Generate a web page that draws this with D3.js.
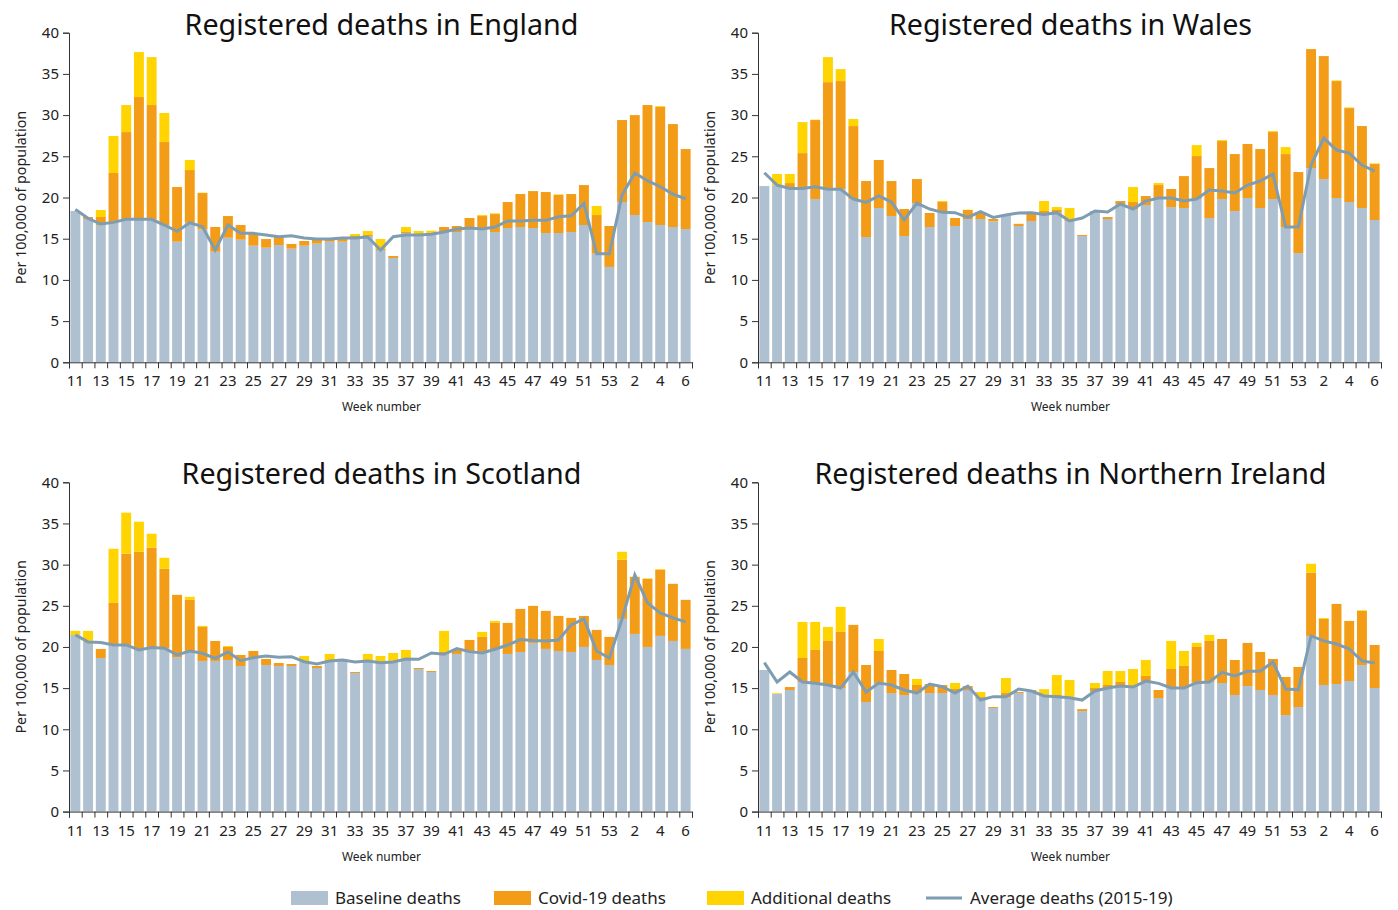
<!DOCTYPE html>
<html><head><meta charset="utf-8">
<script src="https://cdn.jsdelivr.net/npm/d3@7"></script>
<style>
body{margin:0;background:#fff;}
svg{display:block;font-family:"Noto Sans",sans-serif;}
</style></head><body>
<svg id="chart" width="1398" height="910"></svg>
<script>
const weeks = [11,12,13,14,15,16,17,18,19,20,21,22,23,24,25,26,27,28,29,30,31,32,33,34,35,36,37,38,39,40,41,42,43,44,45,46,47,48,49,50,51,52,53,1,2,3,4,5,6];
const yTicks = [0,5,10,15,20,25,30,35,40];
const titles = ["Registered deaths in England","Registered deaths in Wales","Registered deaths in Scotland","Registered deaths in Northern Ireland"];
const seriesNames = ["Baseline deaths","Covid-19 deaths","Additional deaths","Average deaths (2015-19)"];

const englandBaseline = [18.36,17.39,16.66,17.0,17.35,17.35,17.35,16.66,14.64,16.94,16.13,13.42,15.12,14.88,14.15,13.91,14.23,13.79,14.15,14.40,14.64,14.64,15.2,15.33,13.63,12.66,15.69,15.57,15.57,15.93,15.81,16.3,16.05,15.81,16.3,16.42,16.3,15.69,15.69,15.81,16.66,13.18,11.57,19.45,17.87,17.02,16.66,16.42,16.17];
const englandCovid = [0,0.24,0.97,5.97,10.59,14.84,13.87,10.07,6.63,6.39,4.41,3.0,2.63,1.78,1.5,1.05,1.01,0.57,0.57,0.56,0.32,0.32,0.13,0.12,0.12,0.24,0.12,0,0.1,0.49,0.73,1.21,1.7,2.18,3.15,4.0,4.48,4.97,4.61,4.61,4.85,4.69,4.97,9.95,12.13,14.2,14.35,12.49,9.71];
const englandAdditional = [0,0,0.85,4.49,3.28,5.46,5.82,3.52,0,1.22,0.05,0,0,0,0,0,0,0,0,0,0,0,0.24,0.48,1.21,0,0.61,0.36,0.3,0,0,0,0.12,0.09,0,0,0,0,0.08,0,0,1.1,0,0,0,0,0.09,0,0];
const englandAverage = [18.56,17.47,16.78,16.98,17.35,17.35,17.35,16.66,15.89,16.94,16.46,13.63,16.66,15.65,15.65,15.45,15.24,15.37,15.08,14.96,14.96,15.08,15.08,15.2,13.63,15.24,15.45,15.45,15.53,15.81,16.17,16.3,16.17,16.42,17.15,17.15,17.23,17.23,17.67,17.79,19.29,13.18,13.18,20.3,22.97,22.04,21.31,20.42,19.85];

const walesBaseline = [21.39,21.5,21.1,21.1,19.81,20.99,20.99,19.81,15.2,18.72,17.75,15.33,19.33,16.42,18.2,16.54,17.39,17.39,17.1,17.87,16.54,17.15,17.95,18.16,17.15,15.33,18.36,17.39,19.21,18.6,19.09,19.94,18.84,18.72,19.81,17.51,19.81,18.36,19.94,18.72,19.81,16.42,13.26,23.57,22.24,19.94,19.45,18.72,17.27];
const walesCovid = [0,0,0.65,4.29,9.59,13.01,13.14,8.86,6.8,5.83,4.25,3.27,2.91,1.7,1.25,0.97,1.09,0.85,0.29,0,0.24,0.97,0.41,0.32,0.2,0.12,0,0.24,0.36,0.85,1.09,1.57,2.19,3.88,5.22,6.06,7.04,6.91,6.55,7.16,8.13,8.85,9.83,14.44,14.92,14.19,11.4,9.95,6.79];
const walesAdditional = [0,1.35,1.1,3.76,0.05,3.04,1.45,0.85,0,0,0,0,0,0,0.12,0,0.04,0,0,0,0.04,0,1.21,0.36,1.37,0,0,0,0,1.82,0,0.24,0,0,1.33,0,0.12,0,0,0,0.12,0.85,0,0,0,0.08,0.08,0,0.08];
const walesAverage = [23.0,21.5,21.1,21.1,21.31,21.0,21.0,19.81,19.41,20.18,19.45,17.27,19.33,18.6,18.2,18.16,17.59,18.28,17.59,17.87,18.12,18.16,17.95,18.16,17.15,17.51,18.36,18.24,19.21,18.6,19.57,19.94,19.94,19.57,19.81,20.9,20.78,20.54,21.51,22.0,22.85,16.42,16.42,23.94,27.21,25.76,25.39,23.94,23.21];

const scotlandBaseline = [21.46,20.61,18.66,20.24,20.24,19.64,19.92,19.84,18.78,19.51,18.3,18.3,18.42,17.69,18.58,17.81,17.69,17.69,18.21,17.44,18.21,18.42,16.84,18.3,18.09,18.17,18.54,17.32,16.96,19.11,19.15,19.43,19.27,19.72,19.15,19.39,20.49,19.76,19.51,19.39,20.0,18.42,17.81,23.41,21.58,20.0,21.34,20.73,19.76];
const scotlandCovid = [0,0,1.1,5.11,11.08,11.92,12.13,9.65,7.55,6.21,4.13,2.43,1.58,1.34,0.93,0.73,0.36,0.24,0,0.25,0,0.12,0.12,0,0,0,0,0.12,0.12,0.28,0.49,1.42,1.95,3.2,3.77,5.23,4.5,4.62,4.26,4.14,3.77,3.65,3.41,7.18,6.94,8.28,8.03,6.94,5.96];
const scotlandAdditional = [0.49,1.34,0,6.58,4.99,3.65,1.7,1.34,0,0.37,0.13,0,0.12,0,0,0,0,0,0.69,0,0.94,0,0,0.85,0.81,1.1,1.1,0,0,2.56,0,0,0.61,0.24,0,0,0,0,0,0,0,0,0,0.97,0,0.05,0.08,0,0];
const scotlandAverage = [21.46,20.61,20.53,20.24,20.24,19.64,19.92,19.84,19.03,19.51,19.23,18.62,19.39,18.34,18.7,18.9,18.74,18.82,18.21,17.93,18.3,18.42,18.17,18.3,18.09,18.17,18.54,18.5,19.27,19.11,19.8,19.43,19.27,19.72,20.24,20.89,20.77,20.73,20.85,22.68,23.41,19.51,18.66,23.41,28.76,25.35,24.14,23.53,23.04];

const nirelandBaseline = [17.2,14.28,14.77,15.74,15.58,15.38,15.01,16.96,13.31,15.62,14.4,14.16,14.4,14.4,14.4,14.52,14.77,13.71,12.58,13.87,14.4,14.65,14.04,13.96,13.83,12.21,14.65,15.01,15.25,15.13,15.86,13.79,15.01,15.01,15.66,15.74,15.62,14.16,15.25,14.77,14.16,11.72,12.7,21.34,15.38,15.5,15.86,17.81,15.01];
const nirelandCovid = [0,0,0.36,2.92,4.06,5.35,6.82,5.72,4.5,3.89,2.8,2.55,0.98,1.1,0.98,0.37,0.48,0.2,0.12,0.53,0.12,0.12,0.1,0.2,0,0.24,0.36,0.37,0.49,0.1,0.61,0.98,2.31,2.68,4.34,4.99,5.35,4.26,5.24,4.62,4.38,4.63,4.87,7.67,8.03,9.73,7.3,6.57,5.23];
const nirelandAdditional = [0,0.1,0,4.38,3.4,1.7,3.04,0,0,1.46,0,0,0.73,0,0,0.73,0,0.61,0,1.83,0,0,0.73,2.43,2.15,0,0.61,1.7,1.34,2.09,1.95,0,3.41,1.82,0.49,0.73,0,0,0,0,0,0,0,1.09,0.1,0,0,0.08,0];
const nirelandAverage = [18.09,15.74,16.96,15.74,15.58,15.38,15.01,16.96,14.52,15.62,15.38,14.77,14.4,15.5,15.17,14.4,15.25,13.55,13.96,13.96,14.89,14.65,14.04,13.96,13.83,13.55,14.65,15.01,15.25,15.13,15.86,15.58,15.01,15.01,15.66,15.74,16.92,16.47,17.04,17.04,18.17,14.89,14.81,21.34,20.73,20.36,19.76,18.3,18.05];

const COLORS = {baseline:"#afc1d1", covid:"#f39c18", additional:"#ffd400", line:"#7f9db2", text:"#222", axis:"#333"};

const panels = [
  {title:titles[0], b:englandBaseline, c:englandCovid, a:englandAdditional, avg:englandAverage, x0:69, x1:692, y0:32.7, y1:362.3},
  {title:titles[1], b:walesBaseline, c:walesCovid, a:walesAdditional, avg:walesAverage, x0:758, x1:1381, y0:32.7, y1:362.3},
  {title:titles[2], b:scotlandBaseline, c:scotlandCovid, a:scotlandAdditional, avg:scotlandAverage, x0:69, x1:692, y0:482.3, y1:811.6},
  {title:titles[3], b:nirelandBaseline, c:nirelandCovid, a:nirelandAdditional, avg:nirelandAverage, x0:758, x1:1381, y0:482.3, y1:811.6}
];

const svg = d3.select("#chart");

panels.forEach(p => {
  const g = svg.append("g");
  const idx = d3.range(weeks.length);
  const x = d3.scaleBand().domain(idx).range([p.x0, p.x1]).paddingInner(0.22).paddingOuter(0.11);
  const y = d3.scaleLinear().domain([0, 40]).range([p.y1, p.y0]);
  const rows = idx.map(i => ({i, baseline:p.b[i], covid:p.c[i], additional:p.a[i]}));
  const stack = d3.stack().keys(["baseline","covid","additional"])(rows);
  const colorOf = {baseline:COLORS.baseline, covid:COLORS.covid, additional:COLORS.additional};
  stack.forEach(layer => {
    g.append("g").attr("fill", colorOf[layer.key]).selectAll("rect").data(layer).join("rect")
      .attr("x", d => x(d.data.i)).attr("width", x.bandwidth())
      .attr("y", d => y(d[1])).attr("height", d => Math.max(0, y(d[0]) - y(d[1])));
  });
  const line = d3.line().x((d,i) => x(i) + x.bandwidth()/2).y(d => y(d));
  g.append("path").datum(p.avg).attr("d", line).attr("fill","none")
    .attr("stroke", COLORS.line).attr("stroke-width", 3).attr("stroke-linejoin","miter");

  // y axis
  const ya = g.append("g").attr("transform", `translate(${p.x0},0)`)
    .call(d3.axisLeft(y).tickValues(yTicks).tickSize(6).tickPadding(4));
  ya.selectAll("path,line").attr("stroke", COLORS.axis);
  ya.selectAll("text").attr("font-size", 15).attr("fill", COLORS.text).attr("font-family","Noto Sans");

  // x axis: ticks at band boundaries
  const bx = d3.scaleLinear().domain([0, weeks.length]).range([p.x0, p.x1]);
  const xa = g.append("g").attr("transform", `translate(0,${p.y1})`)
    .call(d3.axisBottom(bx).tickValues(d3.range(weeks.length+1)).tickSize(6).tickFormat(""));
  xa.selectAll("path,line").attr("stroke", COLORS.axis);
  g.append("g").selectAll("text").data(idx.filter(i => i % 2 === 0)).join("text")
    .attr("x", i => bx(i + 0.5)).attr("y", p.y1 + 24).attr("text-anchor","middle")
    .attr("font-size", 15).attr("fill", COLORS.text).text(i => weeks[i]);

  g.append("text").attr("x", (p.x0 + p.x1)/2 + 1).attr("y", p.y1 + 49).attr("text-anchor","middle")
    .attr("font-size", 12).attr("fill", COLORS.text).text("Week number");
  g.append("text").attr("transform", `translate(${p.x0 - 43},${(p.y0+p.y1)/2}) rotate(-90)`)
    .attr("text-anchor","middle").attr("font-size", 14.3).attr("fill", COLORS.text).text("Per 100,000 of population");
  g.append("text").attr("x", (p.x0 + p.x1)/2 + 1).attr("y", p.y0 + 2).attr("text-anchor","middle")
    .attr("font-size", 28.7).attr("fill", "#111").text(p.title);
});

// legend
const legend = svg.append("g");
const legendItems = [
  {name:seriesNames[0], color:COLORS.baseline, type:"rect", x:291},
  {name:seriesNames[1], color:COLORS.covid, type:"rect", x:494},
  {name:seriesNames[2], color:COLORS.additional, type:"rect", x:707},
  {name:seriesNames[3], color:COLORS.line, type:"line", x:926}
];
legendItems.forEach(it => {
  if (it.type === "rect") {
    legend.append("rect").attr("x", it.x).attr("y", 891).attr("width", 37).attr("height", 14).attr("fill", it.color);
  } else {
    legend.append("line").attr("x1", it.x).attr("x2", it.x + 36).attr("y1", 898).attr("y2", 898)
      .attr("stroke", it.color).attr("stroke-width", 3);
  }
  legend.append("text").attr("x", it.x + 44).attr("y", 904).attr("font-size", 17).attr("fill", COLORS.text).text(it.name);
});
</script></body></html>
